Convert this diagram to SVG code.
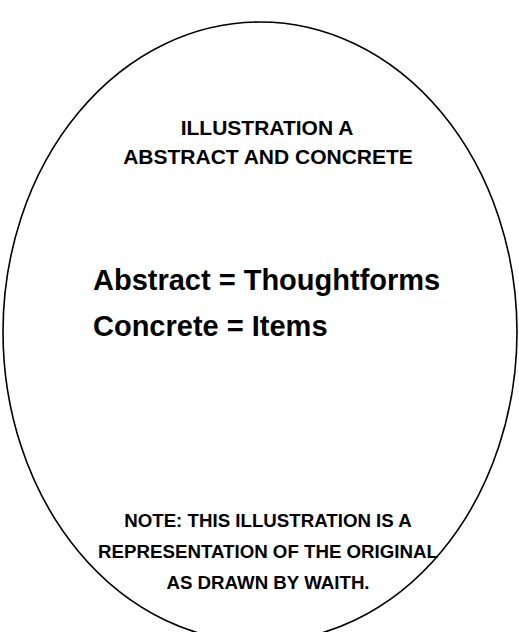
<svg xmlns="http://www.w3.org/2000/svg" width="519" height="632" viewBox="0 0 519 632">
<style>
text{font-family:"Liberation Sans",Arial,sans-serif;font-weight:bold;fill:#000;text-anchor:middle}
.h{font-size:21px}
.b{font-size:29px;text-anchor:start}
.n{font-size:18.7px}
</style>
<rect width="519" height="632" fill="#fff"/>
<g id="oval">
<ellipse cx="260" cy="332" rx="257" ry="310" fill="none" stroke="#000" stroke-width="1.6"/>
</g>
<g id="title">
<text class="h" x="267" y="135">ILLUSTRATION A</text>
<text class="h" x="268" y="164">ABSTRACT AND CONCRETE</text>
</g>
<g id="definitions">
<text class="b" x="93" y="290">Abstract = Thoughtforms</text>
<text class="b" x="93" y="336">Concrete = Items</text>
</g>
<g id="note">
<text class="n" x="268" y="527">NOTE: THIS ILLUSTRATION IS A</text>
<text class="n" x="268" y="558">REPRESENTATION OF THE ORIGINAL</text>
<text class="n" x="268" y="589">AS DRAWN BY WAITH.</text>
</g>
</svg>
